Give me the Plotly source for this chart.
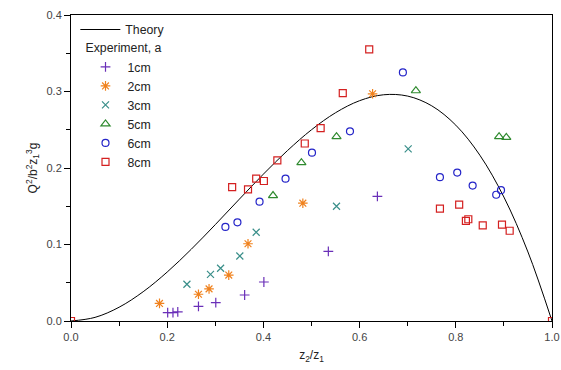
import plotly.graph_objects as go

# Theory curve
theory_x = [0.0, 0.05, 0.1, 0.15, 0.2, 0.25, 0.3, 0.35, 0.4, 0.45, 0.5, 0.55, 0.6, 0.65, 0.7, 0.75, 0.8, 0.85, 0.9, 0.95, 1.0]
theory_y = [0.0, 0.00475, 0.018, 0.03825, 0.064, 0.09375, 0.126, 0.15925, 0.192, 0.22275, 0.25, 0.27225, 0.288, 0.29575, 0.294, 0.28125, 0.256, 0.21675, 0.162, 0.09025, 0.0]

x_1cm = [0.201, 0.212, 0.222, 0.265, 0.301, 0.361, 0.401, 0.535, 0.637]
y_1cm = [0.011, 0.011, 0.012, 0.019, 0.024, 0.034, 0.051, 0.091, 0.163]

x_2cm = [0.184, 0.265, 0.287, 0.328, 0.368, 0.482, 0.627]
y_2cm = [0.023, 0.035, 0.042, 0.060, 0.101, 0.154, 0.297]

x_3cm = [0.241, 0.290, 0.311, 0.351, 0.385, 0.552, 0.701]
y_3cm = [0.048, 0.061, 0.069, 0.085, 0.116, 0.150, 0.225]

x_5cm = [0.420, 0.479, 0.552, 0.717, 0.890, 0.905]
y_5cm = [0.164, 0.207, 0.241, 0.301, 0.241, 0.240]

x_6cm = [0.321, 0.346, 0.392, 0.446, 0.501, 0.580, 0.690, 0.767, 0.803, 0.835, 0.884, 0.894]
y_6cm = [0.123, 0.129, 0.156, 0.186, 0.220, 0.248, 0.325, 0.188, 0.194, 0.177, 0.165, 0.171]

x_8cm = [0.0, 0.335, 0.368, 0.385, 0.401, 0.429, 0.486, 0.519, 0.565, 0.620, 0.767, 0.807, 0.821, 0.826, 0.856, 0.896, 0.912, 1.0]
y_8cm = [0.0, 0.175, 0.172, 0.186, 0.183, 0.210, 0.232, 0.252, 0.298, 0.355, 0.147, 0.152, 0.131, 0.133, 0.125, 0.126, 0.118, 0.0]

series = [
    ("1cm", x_1cm, y_1cm, "cross-thin-open", "#6a2fb8", 7),
    ("2cm", x_2cm, y_2cm, "asterisk-open", "#f0821e", 8),
    ("3cm", x_3cm, y_3cm, "x-thin-open", "#3a8f8a", 7),
    ("5cm", x_5cm, y_5cm, "triangle-up-open", "#2f8a2f", 8),
    ("6cm", x_6cm, y_6cm, "circle-open", "#2424c8", 7),
    ("8cm", x_8cm, y_8cm, "square-open", "#d42020", 7),
]

FONT = "Liberation Sans, Arial, sans-serif"

fig = go.Figure()
fig.add_trace(go.Scatter(x=theory_x, y=theory_y, mode="lines", name="Theory",
                         line=dict(color="black", width=1, shape="spline", smoothing=1.0),
                         legend="legend"))
for name, xs, ys, sym, col, sz in series:
    fig.add_trace(go.Scatter(x=xs, y=ys, mode="markers", name=name,
                             marker=dict(symbol=sym, color=col, size=sz,
                                         line=dict(color=col, width=1.2)),
                             legend="legend2"))

axis_common = dict(showline=True, linecolor="black", linewidth=1, mirror=True,
                   ticks="outside", ticklen=6, tickcolor="black", showgrid=False,
                   zeroline=False, automargin=False,
                   tickfont=dict(family=FONT, size=11, color="#444"))

LEG_FONT = dict(family=FONT, size=12.3, color="#222")

fig.update_layout(
    width=561, height=370,
    margin=dict(l=71, r=9, t=15, b=49),
    plot_bgcolor="white", paper_bgcolor="white",
    font=dict(family=FONT, size=12, color="#222"),
    xaxis=dict(range=[0, 1], dtick=0.2, tickformat=".1f",
               minor=dict(ticks="outside", dtick=0.1, ticklen=4, tickcolor="black"),
               title=dict(text="z<sub>2</sub>/z<sub>1</sub>", standoff=8,
                          font=dict(family=FONT, size=12, color="#222")),
               **axis_common),
    yaxis=dict(range=[0, 0.4], dtick=0.1, tickformat=".1f",
               minor=dict(ticks="outside", dtick=0.05, ticklen=4, tickcolor="black"),
               title=dict(text="Q<sup>2</sup>/b<sup>2</sup>z<sub>1</sub><sup>3</sup>g", standoff=6,
                          font=dict(family=FONT, size=12, color="#222")),
               **axis_common),
    legend=dict(x=0.009, y=1.0, xanchor="left", yanchor="top", bgcolor="rgba(0,0,0,0)",
                font=LEG_FONT, itemwidth=40, tracegroupgap=0),
    legend2=dict(x=0.026, y=0.93, xanchor="left", yanchor="top", bgcolor="rgba(0,0,0,0)",
                 font=LEG_FONT, itemwidth=34,
                 title=dict(text="Experiment, a", font=LEG_FONT),
                 tracegroupgap=0),
    showlegend=True,
)

fig.write_html("out.html")
